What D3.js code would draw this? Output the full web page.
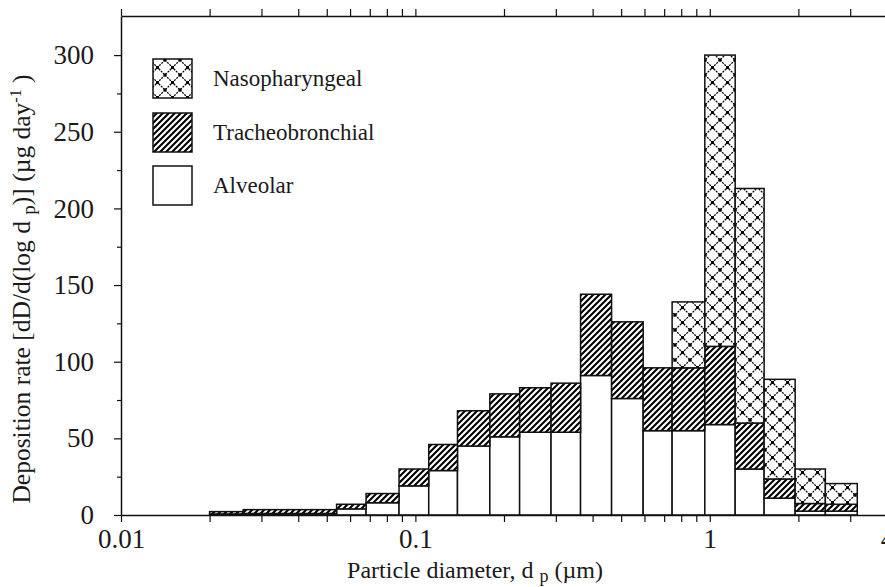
<!DOCTYPE html>
<html>
<head>
<meta charset="utf-8">
<script src="https://cdn.jsdelivr.net/npm/d3@7"></script>
<style>
  html, body { margin: 0; padding: 0; background: #fff; }
  svg { display: block; }
  text { font-family: "Liberation Serif", "Times New Roman", serif; fill: #1a1a1a; }
</style>
</head>
<body>
<svg id="chart" width="885" height="587"></svg>
<script>
// Size-bin edges of the particle diameter classes (µm)
const binEdges = [0.020, 0.026, 0.054, 0.068, 0.088, 0.111, 0.139, 0.179, 0.226, 0.289,
                  0.364, 0.464, 0.594, 0.745, 0.962, 1.22, 1.53, 1.95, 2.47, 3.17];

// Deposition rate per region in each bin, dD/d(log dp) (µg/day)
const alveolar         = [0.7, 1.0, 4, 8, 19, 29, 45, 51, 54, 54, 91, 76, 55, 55, 59, 30, 11, 2.5, 2.5];
const tracheobronchial = [1.5, 2.5, 3, 6, 11, 17, 23, 28, 29, 32, 53, 50, 41, 41, 51, 30, 12.5, 5, 4.5];
const nasopharyngeal   = [0, 0, 0, 0, 0, 0, 0, 0, 0, 0, 0, 0, 0, 43, 190, 153, 65, 22.5, 13.5];

const regionNames = ["Nasopharyngeal", "Tracheobronchial", "Alveolar"];
const yTickValues = [0, 50, 100, 150, 200, 250, 300];
const yMinorTicks = [25, 75, 125, 175, 225, 275];
const xLabelValues = [0.01, 0.1, 1, 4];

const svg = d3.select("#chart");
const defs = svg.append("defs");

// Diagonal hatch for the tracheobronchial region
const hatchSize = 6;
defs.append("pattern")
  .attr("id", "hatch")
  .attr("patternUnits", "userSpaceOnUse")
  .attr("width", hatchSize).attr("height", hatchSize)
  .call(p => {
    p.append("rect").attr("width", hatchSize).attr("height", hatchSize).attr("fill", "#fff");
    p.append("path")
      .attr("d", `M0,${hatchSize} L${hatchSize},0 M${-hatchSize / 2},${hatchSize / 2} L${hatchSize / 2},${-hatchSize / 2} M${hatchSize / 2},${hatchSize * 1.5} L${hatchSize * 1.5},${hatchSize / 2}`)
      .attr("stroke", "#000").attr("stroke-width", 2.1);
  });

// Dotted diamond lattice for the nasopharyngeal region
const crossSize = 15;
defs.append("pattern")
  .attr("id", "cross")
  .attr("patternUnits", "userSpaceOnUse")
  .attr("width", crossSize).attr("height", crossSize)
  .call(p => {
    p.append("rect").attr("width", crossSize).attr("height", crossSize).attr("fill", "#fff");
    p.append("path")
      .attr("d", `M0,0 L${crossSize},${crossSize} M${crossSize},0 L0,${crossSize}`)
      .attr("stroke", "#000").attr("stroke-width", 1.3)
      .attr("stroke-dasharray", "2,1.1");
    const dots = [[0, 0], [crossSize, 0], [0, crossSize], [crossSize, crossSize], [crossSize / 2, crossSize / 2]];
    dots.forEach(([cx, cy]) => p.append("rect")
      .attr("x", cx - 1.5).attr("y", cy - 1.5).attr("width", 3).attr("height", 3).attr("fill", "#000"));
  });

const fills = { Alveolar: "#fff", Tracheobronchial: "url(#hatch)", Nasopharyngeal: "url(#cross)" };

// Scales
const x = d3.scaleLog().domain([0.01, 4]).range([121, 887]);
const y = d3.scaleLinear().domain([0, 325.5]).range([515, 16]);

// Stack the three regions: alveolar at the bottom, nasopharyngeal on top
const rows = alveolar.map((a, i) => ({
  x0: binEdges[i], x1: binEdges[i + 1],
  Alveolar: a, Tracheobronchial: tracheobronchial[i], Nasopharyngeal: nasopharyngeal[i]
}));
const stacked = d3.stack().keys(["Alveolar", "Tracheobronchial", "Nasopharyngeal"])(rows);

const bars = svg.append("g");
stacked.forEach(series => {
  bars.append("g")
    .selectAll("rect")
    .data(series.filter(d => d[1] - d[0] > 0))
    .join("rect")
      .attr("x", d => x(d.data.x0))
      .attr("width", d => x(d.data.x1) - x(d.data.x0))
      .attr("y", d => y(d[1]))
      .attr("height", d => y(d[0]) - y(d[1]))
      .attr("fill", fills[series.key])
      .attr("stroke", "#111")
      .attr("stroke-width", 1.5);
});

// Axes
const xFormat = d => xLabelValues.some(v => Math.abs(v - d) < 1e-9) ? d3.format("")(d) : "";
const styleAxis = g => {
  g.select(".domain").attr("stroke", "#111").attr("stroke-width", 1.5);
  g.selectAll(".tick line").attr("stroke", "#111").attr("stroke-width", 1.2);
  g.selectAll("text").attr("font-size", 27).attr("fill", "#1a1a1a")
    .style("font-family", '"Liberation Serif", serif');
};

svg.append("g")
  .attr("transform", `translate(0,${y(0)})`)
  .call(d3.axisBottom(x).ticks(10).tickFormat(xFormat).tickSize(7).tickSizeOuter(0).tickPadding(7))
  .call(styleAxis);

svg.append("g")
  .attr("transform", `translate(0,${y(325.5)})`)
  .call(d3.axisTop(x).ticks(10).tickFormat("").tickSize(7).tickSizeOuter(0))
  .call(styleAxis);

svg.append("g")
  .attr("transform", `translate(${x(0.01)},0)`)
  .call(d3.axisLeft(y).tickValues(yTickValues).tickSize(7).tickSizeOuter(0).tickPadding(20))
  .call(styleAxis);

svg.append("g")
  .attr("transform", `translate(${x(0.01)},0)`)
  .call(d3.axisLeft(y).tickValues(yMinorTicks).tickSize(4).tickFormat(""))
  .call(g => g.select(".domain").remove())
  .call(g => g.selectAll(".tick line").attr("stroke", "#111").attr("stroke-width", 1.2));

// Axis titles
const xTitle = svg.append("text")
  .attr("x", 475).attr("y", 578)
  .attr("text-anchor", "middle")
  .attr("font-size", 24);
xTitle.append("tspan").text("Particle diameter, d ");
xTitle.append("tspan").attr("dy", 4).attr("font-size", 18).text("p");
xTitle.append("tspan").attr("dy", -4).text(" (µm)");

const yTitle = svg.append("text")
  .attr("transform", "translate(30,289) rotate(-90)")
  .attr("text-anchor", "middle")
  .attr("font-size", 25.5);
yTitle.append("tspan").text("Deposition rate [dD/d(log d ");
yTitle.append("tspan").attr("dy", 5).attr("font-size", 19).text("p");
yTitle.append("tspan").attr("dy", -5).text(")] (µg day");
yTitle.append("tspan").attr("dy", -9).attr("font-size", 16).text("-1");
yTitle.append("tspan").attr("dy", 9).text(" )");

// Legend
const legend = svg.append("g");
const legendTop = [59, 113, 166];
regionNames.forEach((name, i) => {
  legend.append("rect")
    .attr("x", 153).attr("y", legendTop[i])
    .attr("width", 39).attr("height", 39)
    .attr("fill", fills[name])
    .attr("stroke", "#111").attr("stroke-width", 1.5);
  legend.append("text")
    .attr("x", 213).attr("y", legendTop[i] + 27)
    .attr("font-size", 23)
    .text(name);
});
</script>
</body>
</html>
